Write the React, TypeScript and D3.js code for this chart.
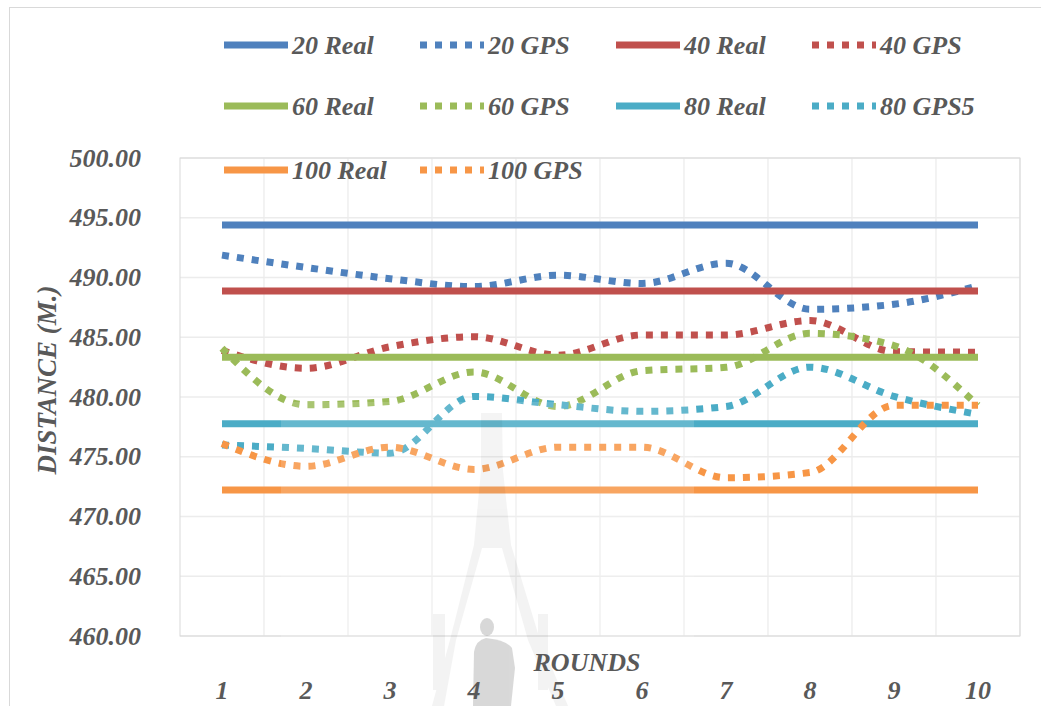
import React from 'react';
import * as d3 from 'd3';

// Rounds along the x axis
const rounds = ['1', '2', '3', '4', '5', '6', '7', '8', '9', '10'];

// Measured (Real) distances per round, in metres
const real20 = [494.39, 494.39, 494.39, 494.39, 494.39, 494.39, 494.39, 494.39, 494.39, 494.39];
const real40 = [488.88, 488.88, 488.88, 488.88, 488.88, 488.88, 488.88, 488.88, 488.88, 488.88];
const real60 = [483.32, 483.32, 483.32, 483.32, 483.32, 483.32, 483.32, 483.32, 483.32, 483.32];
const real80 = [477.76, 477.76, 477.76, 477.76, 477.76, 477.76, 477.76, 477.76, 477.76, 477.76];
const real100 = [472.21, 472.21, 472.21, 472.21, 472.21, 472.21, 472.21, 472.21, 472.21, 472.21];

// GPS distances per round, in metres
const gps20 = [491.87, 490.84, 489.9, 489.24, 490.19, 489.5, 491.2, 487.34, 487.76, 489.3];
const gps40 = [483.9, 482.4, 484.2, 485.05, 483.5, 485.19, 485.19, 486.4, 483.8, 483.75];
const gps60 = [484.08, 479.35, 479.63, 482.1, 479.2, 482.2, 482.48, 485.33, 484.3, 479.3];
const gps80 = [475.98, 475.7, 475.3, 480.05, 479.35, 478.8, 479.2, 482.5, 480.05, 478.55];
const gps100 = [476.1, 474.2, 475.8, 473.94, 475.8, 475.8, 473.24, 473.68, 479.3, 479.3];

// Y axis tick values
const yTicks = [460, 465, 470, 475, 480, 485, 490, 495, 500];

type Series = { name: string; values: number[]; color: string; dotted: boolean };

const series: Series[] = [
  { name: '20 Real', values: real20, color: '#4F81BD', dotted: false },
  { name: '20 GPS', values: gps20, color: '#4F81BD', dotted: true },
  { name: '40 Real', values: real40, color: '#C0504D', dotted: false },
  { name: '40 GPS', values: gps40, color: '#C0504D', dotted: true },
  { name: '60 Real', values: real60, color: '#9BBB59', dotted: false },
  { name: '60 GPS', values: gps60, color: '#9BBB59', dotted: true },
  { name: '80 Real', values: real80, color: '#4BACC6', dotted: false },
  { name: '80 GPS5', values: gps80, color: '#4BACC6', dotted: true },
  { name: '100 Real', values: real100, color: '#F79646', dotted: false },
  { name: '100 GPS', values: gps100, color: '#F79646', dotted: true },
];

const W = 1041;
const H = 706;
const plot = { left: 180, right: 1020, top: 158, bottom: 636 };
const textColor = '#595959';
const FONT = 'Liberation Serif';

export default function App() {
  const x = d3.scaleBand<string>().domain(rounds).range([plot.left, plot.right]).padding(0);
  const y = d3.scaleLinear().domain([460, 500]).range([plot.bottom, plot.top]);
  const bw = x.bandwidth();
  const cx = (r: string) => (x(r) as number) + bw / 2;

  const smooth = d3
    .line<number>()
    .x((_, i) => cx(rounds[i]))
    .y((d) => y(d))
    .curve(d3.curveMonotoneX);
  const straight = d3
    .line<number>()
    .x((_, i) => cx(rounds[i]))
    .y((d) => y(d));

  const fmt = d3.format('.2f');

  return (
    <svg
      width={W}
      height={H}
      fontFamily={FONT}
      fontWeight="bold"
      fontStyle="italic"
      style={{ position: 'absolute', left: 0, top: 0, background: '#fff' }}
    >
      {/* chart frame */}
      <rect x={9.5} y={7.5} width={W} height={H} fill="#fff" stroke="#d9d9d9" strokeWidth={1} />

      {/* horizontal gridlines */}
      {yTicks.map((t) => (
        <line
          key={'h' + t}
          x1={plot.left}
          x2={plot.right}
          y1={y(t)}
          y2={y(t)}
          stroke="#ececec"
          strokeWidth={1.3}
        />
      ))}
      {/* vertical gridlines at band edges */}
      {rounds.map((r) => (
        <line
          key={'v' + r}
          x1={(x(r) as number) + bw}
          x2={(x(r) as number) + bw}
          y1={plot.top}
          y2={plot.bottom}
          stroke="#ececec"
          strokeWidth={1.3}
        />
      ))}
      <rect
        x={plot.left}
        y={plot.top}
        width={plot.right - plot.left}
        height={plot.bottom - plot.top}
        fill="none"
        stroke="#d9d9d9"
        strokeWidth={1}
      />

      {/* data lines */}
      {series.map((s) => (
        <path
          key={s.name}
          d={(s.dotted ? smooth(s.values) : straight(s.values)) || ''}
          fill="none"
          stroke={s.color}
          strokeWidth={7}
          strokeDasharray={s.dotted ? '7 8' : undefined}
          strokeLinejoin="round"
        />
      ))}

      {/* university watermark */}
      <g>
        <rect x={281} y={402} width={413} height={304} fill="#fff" opacity={0.15} />
        <g fill="#000" opacity={0.045}>
          <path d="M481,413 L502,413 L503,470 L511,545 L540,640 L568,706 L556,706 L528,640 L502,548 L482,548 L456,640 L444,706 L432,706 L450,640 L474,545 L481,470 Z" />
          <rect x={433} y={614} width={12} height={76} />
          <rect x={538} y={614} width={10} height={76} />
        </g>
        <g fill="#000" opacity={0.15}>
          <ellipse cx={487} cy={627} rx={7} ry={9} />
          <path d="M473,706 L474,652 Q476,640 486,638 Q506,640 512,648 L515,668 L511,706 Z" />
        </g>
      </g>

      <g fill={textColor} fontFamily={FONT} fontWeight="bold" fontStyle="italic">
        {/* y tick labels */}
        {yTicks.map((t) => (
          <text
            key={'yl' + t}
            x={141}
            y={y(t)}
            textAnchor="end"
            dominantBaseline="central"
            fontSize={26}
          >
            {fmt(t)}
          </text>
        ))}

        {/* x tick labels */}
        {rounds.map((r) => (
          <text
            key={'xl' + r}
            x={cx(r)}
            y={690}
            textAnchor="middle"
            dominantBaseline="central"
            fontSize={26}
          >
            {r}
          </text>
        ))}

        {/* axis titles */}
        <text x={587} y={662} textAnchor="middle" dominantBaseline="central" fontSize={26}>
          ROUNDS
        </text>
        <text
          transform={`translate(47, 380) rotate(-90)`}
          textAnchor="middle"
          dominantBaseline="central"
          fontSize={27}
        >
          DISTANCE (M.)
        </text>

        {/* legend */}
        {series.map((s, i) => {
          const col = i % 4;
          const row = Math.floor(i / 4);
          const lx = 224 + col * 196;
          const ly = [45, 106, 170][row];
          return (
            <g key={'lg' + s.name}>
              <line
                x1={lx}
                x2={lx + 64}
                y1={ly}
                y2={ly}
                stroke={s.color}
                strokeWidth={7}
                strokeDasharray={s.dotted ? '7 8' : undefined}
              />
              <text x={lx + 68} y={ly} dominantBaseline="central" fontSize={26}>
                {s.name}
              </text>
            </g>
          );
        })}
      </g>
    </svg>
  );
}
